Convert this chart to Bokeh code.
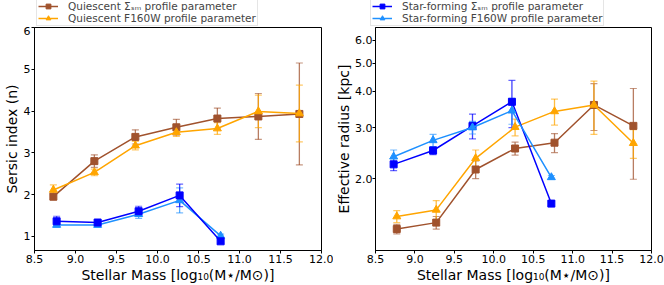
from bokeh.plotting import figure
from bokeh.models import (Range1d, Whisker, TeeHead, ColumnDataSource, Legend,
                          LegendItem, FixedTicker, NumeralTickFormatter)
from bokeh.layouts import row, column
from bokeh.embed import file_html
from bokeh.resources import INLINE

# ---------------- data ----------------
x_ticks = [8.5, 9.0, 9.5, 10.0, 10.5, 11.0, 11.5, 12.0]
n_ticks = [1, 2, 3, 4, 5, 6]
re_ticks = [2.0, 3.0, 4.0, 5.0, 6.0]

q_mass_left = [8.73, 9.23, 9.73, 10.23, 10.73, 11.23, 11.73]
sf_mass_left = [8.77, 9.27, 9.77, 10.27, 10.77]
sf_mass_right = [8.73, 9.23, 9.73, 10.23, 10.73]
q_mass_right = [8.77, 9.27, 9.77, 10.27, 10.77, 11.27, 11.77]

# Sersic index
q_sm_n = [1.95, 2.80, 3.38, 3.61, 3.82, 3.87, 3.93]
q_sm_n_err = [0.08, 0.15, 0.17, 0.19, 0.25, 0.55, 1.22]
q_f160_n = [2.11, 2.53, 3.17, 3.49, 3.58, 3.99, 3.94]
q_f160_n_err = [0.12, 0.08, 0.10, 0.10, 0.14, 0.39, 0.68]
sf_sm_n = [1.36, 1.33, 1.60, 1.98, 0.88]
sf_sm_n_err = [0.12, 0.05, 0.12, 0.27, 0.05]
sf_f160_n = [1.27, 1.27, 1.53, 1.86, 1.01]
sf_f160_n_err = [0.05, 0.05, 0.10, 0.30, 0.04]

# Effective radius [kpc]
sf_sm_re = [2.24, 2.50, 3.04, 3.68, 1.64]
sf_sm_re_err = [0.11, 0.08, 0.30, 0.68, 0.03]
sf_f160_re = [2.38, 2.71, 3.00, 3.43, 2.02]
sf_f160_re_err = [0.13, 0.13, 0.15, 0.35, 0.03]
q_sm_re = [1.34, 1.41, 2.15, 2.54, 2.66, 3.59, 3.04]
q_sm_re_err = [0.05, 0.07, 0.15, 0.13, 0.20, 0.66, 1.05]
q_f160_re = [1.48, 1.56, 2.35, 3.01, 3.41, 3.59, 2.65]
q_f160_re_err = [0.07, 0.12, 0.16, 0.20, 0.35, 0.75, 0.30]

labels_q = ["Quiescent Σₛₘ profile parameter", "Quiescent F160W profile parameter"]
labels_sf = ["Star-forming Σₛₘ profile parameter", "Star-forming F160W profile parameter"]

BROWN = "#a0522d"
ORANGE = "#ffa500"
BLUE = "#0000ff"
LBLUE = "#1e90ff"
FONT = "DejaVu Sans"

LEG_H = 26
PLOT_H = 259


# ---------------- helpers ----------------
def series(p, xs, ys, errs, color, marker, size):
    lo = [y - e for y, e in zip(ys, errs)]
    hi = [y + e for y, e in zip(ys, errs)]
    src = ColumnDataSource(dict(x=xs, y=ys, lo=lo, hi=hi))
    w = Whisker(base="x", upper="hi", lower="lo", source=src, dimension="height",
                line_color=color, line_width=1.3, line_alpha=0.75,
                upper_head=TeeHead(size=7, line_color=color, line_width=1.2, line_alpha=0.6),
                lower_head=TeeHead(size=7, line_color=color, line_width=1.2, line_alpha=0.6))
    p.add_layout(w)
    p.line("x", "y", source=src, line_color=color, line_width=1.5)
    p.scatter("x", "y", source=src, marker=marker, size=size,
              fill_color=color, line_color=color)


def style(p, ylabel):
    p.outline_line_color = "black"
    p.outline_line_width = 1
    p.background_fill_color = "white"
    p.border_fill_color = "white"
    p.xgrid.visible = False
    p.ygrid.visible = False
    for ax in (p.xaxis[0], p.yaxis[0]):
        ax.major_label_text_font = FONT
        ax.major_label_text_font_size = "11px"
        ax.major_label_text_color = "black"
        ax.axis_label_text_font = FONT
        ax.axis_label_text_font_size = "14px"
        ax.axis_label_text_font_style = "normal"
        ax.axis_label_text_color = "black"
        ax.major_tick_out = 3
        ax.major_tick_in = 0
        ax.minor_tick_line_color = None
        ax.major_label_standoff = 1
        ax.axis_label_standoff = 1
        ax.axis_line_color = "black"
        ax.major_tick_line_color = "black"
    p.xaxis[0].ticker = FixedTicker(ticks=x_ticks)
    p.xaxis[0].formatter = NumeralTickFormatter(format="0.0")
    p.xaxis[0].axis_label = "Stellar Mass [log₁₀(M⋆/M⊙)]"
    p.yaxis[0].axis_label = ylabel


# ---------------- legend strip ----------------
p0 = figure(width=664, height=LEG_H, x_range=Range1d(0, 1), y_range=Range1d(0, 1),
            output_backend="svg", toolbar_location=None,
            x_axis_location=None, y_axis_location=None,
            min_border=0, outline_line_color=None)
p0.xgrid.visible = False
p0.ygrid.visible = False


def legend_items(labels, colors, markers, sizes):
    items = []
    for lab, c, m, s in zip(labels, colors, markers, sizes):
        # legend-only renderers: their data lie outside the strip's visible range
        ln = p0.line(x=[5, 6], y=[5, 6], line_color=c, line_width=1.5)
        sc = p0.scatter(x=[5], y=[5], marker=m, size=s, fill_color=c, line_color=c)
        items.append(LegendItem(label=lab, renderers=[ln, sc]))
    return items


def add_legend(items, xpos):
    leg = Legend(items=items, location=(xpos, 0), orientation="vertical",
                 label_text_font=FONT, label_text_font_size="10.5px",
                 label_height=12, glyph_height=12, glyph_width=20,
                 label_standoff=10, spacing=0, padding=1, margin=0,
                 border_line_color="#cccccc", border_line_width=1,
                 background_fill_color="white", background_fill_alpha=1.0)
    p0.add_layout(leg, "center")


add_legend(legend_items(labels_q, [BROWN, ORANGE], ["square", "triangle"], [7, 8]), 36)
add_legend(legend_items(labels_sf, [BLUE, LBLUE], ["square", "triangle"], [7, 8]), 370)

# ---------------- left panel ----------------
p1 = figure(width=333, height=PLOT_H, x_range=Range1d(8.5, 12.0), y_range=Range1d(0.66, 6.0),
            output_backend="svg", toolbar_location=None,
            min_border_top=1, min_border_right=12, min_border_left=33,
            min_border_bottom=35)
style(p1, "Sersic index (n)")
p1.yaxis[0].ticker = FixedTicker(ticks=n_ticks)
series(p1, q_mass_left, q_sm_n, q_sm_n_err, BROWN, "square", 7)
series(p1, q_mass_left, q_f160_n, q_f160_n_err, ORANGE, "triangle", 8)
series(p1, sf_mass_left, sf_f160_n, sf_f160_n_err, LBLUE, "triangle", 8)
series(p1, sf_mass_left, sf_sm_n, sf_sm_n_err, BLUE, "square", 7)

# ---------------- right panel ----------------
p2 = figure(width=331, height=PLOT_H, x_range=Range1d(8.5, 12.0), y_range=Range1d(1.13, 6.64),
            y_axis_type="log", output_backend="svg", toolbar_location=None,
            min_border_top=1, min_border_right=13, min_border_left=30,
            min_border_bottom=35)
style(p2, "Effective radius [kpc]")
p2.yaxis[0].ticker = FixedTicker(ticks=re_ticks)
p2.yaxis[0].formatter = NumeralTickFormatter(format="0.0")
p2.yaxis[0].axis_label_standoff = 0
p2.yaxis[0].major_label_standoff = 0
series(p2, q_mass_right, q_sm_re, q_sm_re_err, BROWN, "square", 7)
series(p2, q_mass_right, q_f160_re, q_f160_re_err, ORANGE, "triangle", 8)
series(p2, sf_mass_right, sf_sm_re, sf_sm_re_err, BLUE, "square", 7)
series(p2, sf_mass_right, sf_f160_re, sf_f160_re_err, LBLUE, "triangle", 8)

layout = column(p0, row(p1, p2))
open("out.html", "w").write(file_html(layout, INLINE))
